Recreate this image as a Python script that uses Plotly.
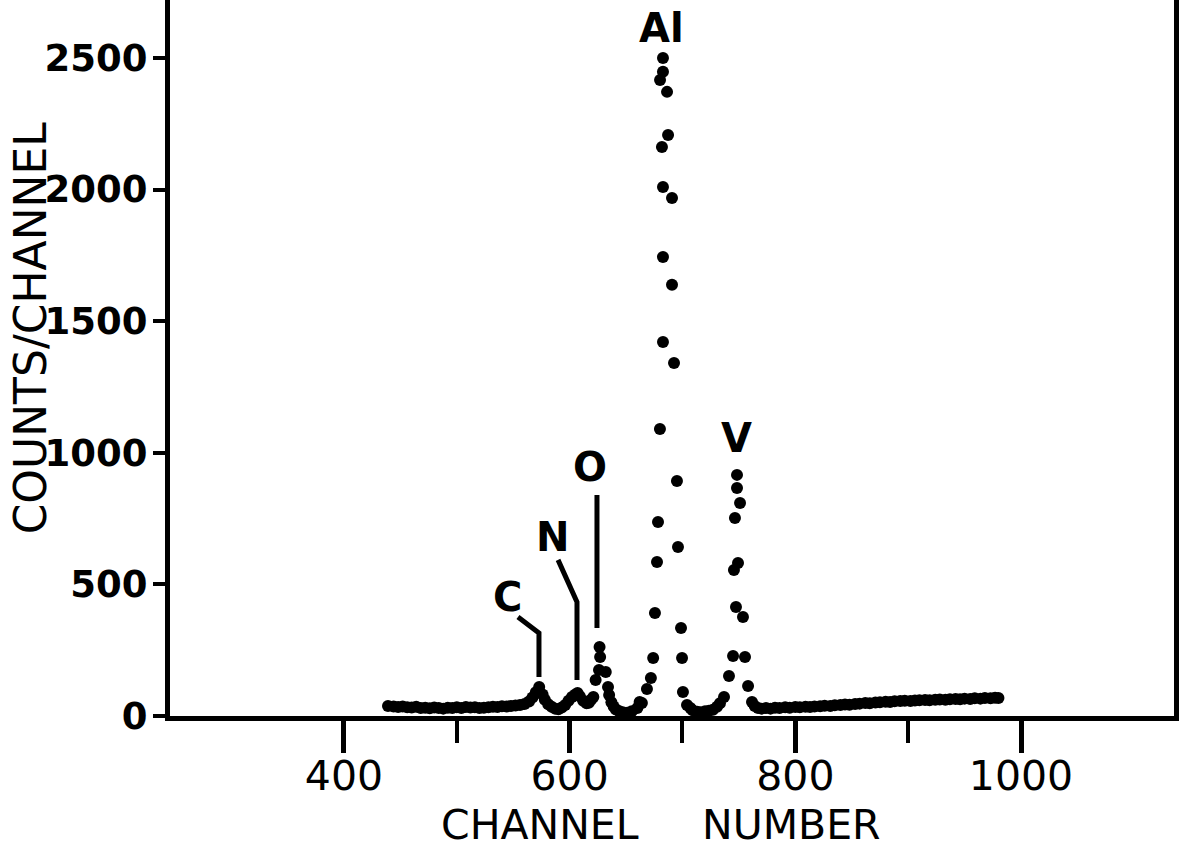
import plotly.graph_objects as go

# ---- data (channel number, counts per channel) ----
channel = [
    439, 444, 448, 452, 456, 460, 464, 468, 472, 476, 480, 484, 488, 492, 496,
    500, 504, 508, 512, 516, 520, 524, 528, 532, 536, 540, 544, 548, 552, 556,
    560, 564, 567, 570, 573, 576, 578, 581, 584, 587, 590, 593, 596, 599, 602,
    605, 607, 609, 612, 615, 617, 619, 621, 623, 626, 626.5, 627, 632, 634, 635,
    637, 639, 641, 644, 647, 651, 655, 660,
    662, 664, 668.5, 672, 674, 675.6, 677.4, 678.3, 680, 682.7, 682.7, 682.7,
    681.8, 680.1, 682.7, 682.7, 686.3, 687.2, 690.7, 690.7, 692.5, 695.1, 696,
    698.7, 699.6, 700.4, 704,
    707, 709, 713, 716, 720, 723.5, 727, 730.6, 733.2, 736.8, 741.2, 744.8,
    745.6, 746.5, 747.4, 748.3, 748.3, 749.2, 751, 753.6, 755.4, 758.1, 761.6,
    764, 767, 770, 774, 778, 782, 786, 791, 795, 800, 804, 809, 813, 817, 822,
    826, 831, 835, 840, 844, 848, 853, 857, 862, 866, 871, 875, 880, 884, 888,
    893, 897, 902, 906, 910, 915, 919, 924, 928, 933, 937, 942, 946, 950, 955,
    959, 964, 968, 973, 977, 980,
]
counts = [
    38, 36, 34, 36, 33, 32, 35, 30, 31, 29, 32, 30, 28, 31, 30,
    33, 30, 34, 32, 33, 30, 31, 33, 35, 34, 37, 36, 38, 40, 42,
    46, 55, 70, 90, 110, 82, 62, 45, 35, 28, 26, 32, 42, 58, 72,
    82, 87, 75, 58, 48, 50, 62, 72, 137, 175, 262, 224, 167, 110, 80,
    52, 36, 25, 18, 14, 12, 18, 30,
    53, 49, 103, 144, 220, 391, 585, 737, 1090, 1421, 1744, 2010,
    2162, 2416, 2447, 2500, 2371, 2207, 1968, 1638, 1341, 893, 642,
    334, 220, 91, 42,
    30, 22, 16, 14, 18, 20, 24, 35, 48, 72, 152, 228,
    555, 752, 414, 916, 866, 581, 809, 376, 224, 114, 53,
    38, 30, 28, 30, 28, 31, 30, 33, 31, 34, 33, 35, 34, 36, 37,
    39, 38, 41, 42, 44, 43, 46, 47, 49, 48, 51, 52, 54, 53, 56,
    57, 58, 57, 59, 60, 61, 60, 62, 63, 62, 64, 65, 64, 66, 65,
    67, 66, 68, 67, 69, 68,
]

x_major_ticks = [400, 600, 800, 1000]
x_minor_ticks = [500, 700, 900]
y_ticks = [0, 500, 1000, 1500, 2000, 2500]

# peak labels: text, label position, leader line vertices
peak_labels = ["Al", "V", "O", "N", "C"]
label_x = [681, 748.3, 618, 585, 544.5]
label_y = [2614, 1056, 946, 680, 452]
leader_x = [None, None, [624.2, 624.2], [589.7, 606.5, 606.5], [554.2, 572.8, 572.8]]
leader_y = [None, None, [840, 334], [593, 433, 137], [376, 315, 148]]

# axis title words (x title is two separated words)
x_title_words = ["CHANNEL", "NUMBER"]
x_title_pos = [573.7, 797]
y_title = "COUNTS/CHANNEL"

fig = go.Figure()
fig.add_trace(go.Scatter(
    x=channel, y=counts, mode="markers",
    marker=dict(size=12, color="black", line=dict(width=0)),
    showlegend=False, cliponaxis=False,
))

shapes = []
annotations = []
for i, t in enumerate(peak_labels):
    annotations.append(dict(
        x=label_x[i], y=label_y[i], xref="x", yref="y", text=t,
        showarrow=False, xanchor="center", yanchor="middle",
        font=dict(family="DejaVu Sans", size=40, color="black", weight="bold"),
    ))
    if leader_x[i] is not None:
        path = "M " + " L ".join(f"{a},{b}" for a, b in zip(leader_x[i], leader_y[i]))
        shapes.append(dict(type="path", path=path, xref="x", yref="y",
                           line=dict(color="black", width=5)))

# axis titles
annotations.append(dict(
    x=-0.139, y=0.542, xref="paper", yref="paper", text=y_title,
    textangle=-90, showarrow=False, xanchor="center", yanchor="middle",
    font=dict(family="DejaVu Sans", size=44, color="black"),
))
for w, xp in zip(x_title_words, x_title_pos):
    annotations.append(dict(
        x=xp, y=-0.152, xref="x", yref="paper", text=w,
        showarrow=False, xanchor="center", yanchor="middle",
        font=dict(family="DejaVu Sans", size=41, color="black"),
    ))

fig.update_layout(
    width=1181, height=851,
    margin=dict(l=170, r=7, t=0, b=135),
    paper_bgcolor="white", plot_bgcolor="white",
    shapes=shapes, annotations=annotations,
    xaxis=dict(
        range=[245.8, 1135.6], showgrid=False, zeroline=False,
        showline=True, linewidth=5, linecolor="black",
        ticks="outside", tickmode="array", tickvals=x_major_ticks,
        ticktext=[str(v) for v in x_major_ticks],
        ticklen=32, tickwidth=5, tickcolor="black", ticklabelstandoff=-12,
        tickfont=dict(family="DejaVu Sans", size=41, color="black"),
        minor=dict(tickmode="array", tickvals=x_minor_ticks, ticks="outside",
                   ticklen=22, tickwidth=4, tickcolor="black", showgrid=False),
    ),
    yaxis=dict(
        range=[0, 2720], showgrid=False, zeroline=False,
        showline=True, linewidth=5, linecolor="black", mirror=True,
        ticks="outside", tickmode="array", tickvals=y_ticks,
        ticklen=12, tickwidth=4, tickcolor="black", ticklabelstandoff=-2,
        tickfont=dict(family="DejaVu Sans", size=37, color="black", weight="bold"),
    ),
)

fig.write_html("out.html")
